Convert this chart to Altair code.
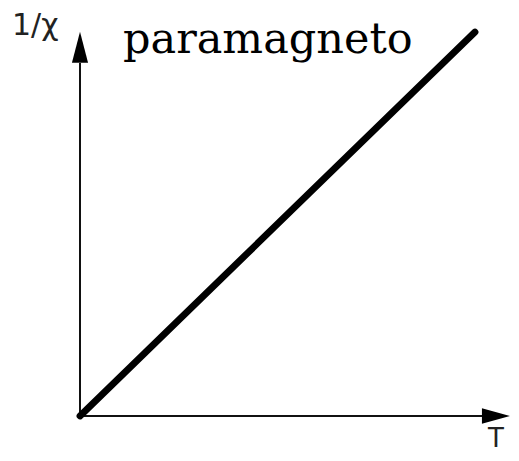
import altair as alt
import pandas as pd

# Curie law: 1/chi proportional to T (schematic, arbitrary units)
T_values = [0, 10]
inv_chi_values = [0, 10]

x_label = "T"
y_label = "1/\u03c7"
title_text = "paramagneto"

# axis extents (arbitrary units)
x_axis_end = 10.2
y_axis_end = 9.19
x_arrow_pos = 10.53
y_arrow_pos = 9.6

W, H = 503, 444
x_dom = [-1.8228, 10.9114]
y_dom = [(408 - H) / 38.4, 10.625]

xs = alt.Scale(domain=x_dom, nice=False, zero=False)
ys = alt.Scale(domain=y_dom, nice=False, zero=False)

line_df = pd.DataFrame({"T": T_values, "inv": inv_chi_values})
xaxis_df = pd.DataFrame({"T": [-0.06, x_axis_end], "inv": [0, 0]})
yaxis_df = pd.DataFrame({"T": [0, 0], "inv": [-0.05, y_axis_end]})
xarrow_df = pd.DataFrame({"T": [x_arrow_pos], "inv": [0.0]})
yarrow_df = pd.DataFrame({"T": [0.0], "inv": [y_arrow_pos]})

def enc(ch):
    return ch.encode(
        x=alt.X("T:Q", scale=xs, axis=None),
        y=alt.Y("inv:Q", scale=ys, axis=None),
    )

xaxis = enc(alt.Chart(xaxis_df).mark_line(color="#111", strokeWidth=2))
yaxis = enc(alt.Chart(yaxis_df).mark_line(color="#111", strokeWidth=2))
xarrow = enc(alt.Chart(xarrow_df).mark_point(
    shape="M-1,-0.55L1,0L-1,0.55Z", size=784, filled=True, color="black", opacity=1))
yarrow = enc(alt.Chart(yarrow_df).mark_point(
    shape="M-0.52,1L0,-1L0.52,1Z", size=961, filled=True, color="black", opacity=1))
curve = enc(alt.Chart(line_df).mark_line(color="black", strokeWidth=6.8, strokeCap="round"))

title = alt.Chart(pd.DataFrame({"t": [title_text]})).mark_text(
    font="DejaVu Serif", fontSize=43, align="left", baseline="alphabetic", color="black"
).encode(x=alt.value(115), y=alt.value(45), text="t:N")

ylab = alt.Chart(pd.DataFrame({"t": [y_label]})).mark_text(
    font="DejaVu Sans", fontSize=30, align="left", baseline="alphabetic", color="#222"
).encode(x=alt.value(4), y=alt.value(27), text="t:N")

xlab = alt.Chart(pd.DataFrame({"t": [x_label]})).mark_text(
    font="DejaVu Sans", fontSize=26, align="left", baseline="alphabetic", color="#222"
).encode(x=alt.value(480), y=alt.value(439), text="t:N")

chart = alt.layer(xaxis, yaxis, curve, xarrow, yarrow, title, ylab, xlab).properties(
    width=W, height=H, padding=0, autosize=alt.AutoSizeParams(type="none")
).configure_view(stroke=None)

chart.save("out.html", embed_options={"renderer": "svg", "actions": False})
